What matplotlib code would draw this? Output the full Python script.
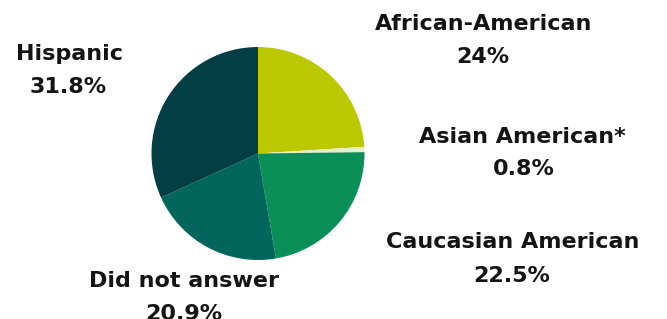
import matplotlib
matplotlib.use("Agg")
import matplotlib.pyplot as plt

categories = ["African-American", "Asian American*", "Caucasian American", "Did not answer", "Hispanic"]
values = [24, 0.8, 22.5, 20.9, 31.8]
pct_labels = ["24%", "0.8%", "22.5%", "20.9%", "31.8%"]
colors = ["#BCC800", "#E4EFCB", "#0B8F58", "#03665C", "#023E44"]

W, H = 667, 319
fig = plt.figure(figsize=(W / 100, H / 100), dpi=100)
fig.patch.set_facecolor("white")

cx, cy, r = 258, 153.5, 106.5
ax = fig.add_axes([(cx - r) / W, (H - cy - r) / H, 2 * r / W, 2 * r / H])
ax.pie(values, colors=colors, startangle=90, counterclock=False, radius=1,
       wedgeprops=dict(linewidth=0))
ax.set_xlim(-1, 1)
ax.set_ylim(-1, 1)
ax.set_aspect("equal")
ax.axis("off")

# label positions (pixel: center x, baseline y) for name line and percent line
pos = {
    "African-American": ((484, 30), (483, 63)),
    "Asian American*": ((522, 143), (524, 175)),
    "Caucasian American": ((513, 248), (512, 282)),
    "Did not answer": ((184, 287), (184, 320)),
    "Hispanic": ((69, 60), (68, 93)),
}
fs = 16
style = dict(ha="center", va="baseline", fontsize=fs, fontweight="bold",
             family="DejaVu Sans", color="#141414")
for cat, pct in zip(categories, pct_labels):
    (x1, y1), (x2, y2) = pos[cat]
    fig.text(x1 / W, 1 - y1 / H, cat, **style)
    fig.text(x2 / W, 1 - y2 / H, pct, **style)

fig.savefig("out.png", dpi=100, facecolor="white")
